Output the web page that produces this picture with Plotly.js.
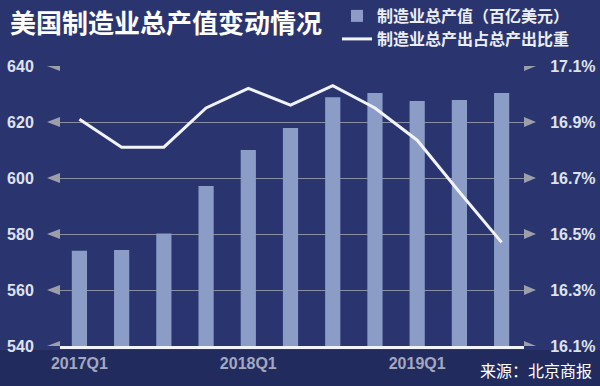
<!DOCTYPE html>
<html>
<head>
<meta charset="utf-8">
<script src="https://cdn.plot.ly/plotly-3.0.1.min.js"></script>
<style>html,body{margin:0;padding:0;background:#2a3570;}#chart{width:600px;height:386px;}</style>
</head>
<body>
<div id="chart"></div>
<script>
const quarters = ['2017Q1','2017Q2','2017Q3','2017Q4','2018Q1','2018Q2','2018Q3','2018Q4','2019Q1','2019Q2','2019Q3'];
const outputValue = [574.0, 574.3, 580.2, 597.1, 610.0, 617.9, 628.8, 630.4, 627.5, 627.9, 630.4];
const outputShare = [16.91, 16.81, 16.81, 16.95, 17.02, 16.96, 17.03, 16.95, 16.835, 16.65, 16.47];
const leftTicks = [540, 560, 580, 600, 620, 640];
const rightTicks = [16.1, 16.3, 16.5, 16.7, 16.9, 17.1];
const xTickLabels = ['2017Q1', '2018Q1', '2019Q1'];

const FONT = 'Liberation Sans, Arial, "Noto Sans CJK SC", sans-serif';
const CJK = '"Noto Sans CJK SC", "Liberation Sans", sans-serif';
const legendFont = {family: CJK, size: 16, color: '#eceef5', weight: 'bold'};

const traces = [
  {
    type: 'bar', x: quarters, y: outputValue, name: '制造业总产值（百亿美元）',
    width: 0.36, marker: {color: '#8b9cc6'}, yaxis: 'y', hoverinfo: 'skip', legend: 'legend'
  },
  {
    type: 'scatter', mode: 'lines', x: quarters, y: outputShare, name: '制造业总产出占总产出比重',
    line: {color: '#f2f3f8', width: 3}, yaxis: 'y2', hoverinfo: 'skip', legend: 'legend2'
  }
];

const shapes = [
  {type: 'rect', xref: 'paper', yref: 'paper', x0: -0.2, x1: 1.3, y0: -0.2, y1: -0.0143,
   fillcolor: '#222b5d', line: {width: 0}, layer: 'below'}
];
leftTicks.forEach(v => {
  shapes.push({type: 'path', xref: 'paper', yref: 'y', xsizemode: 'pixel', ysizemode: 'pixel',
    xanchor: 0, yanchor: v, path: 'M 0 -5 L -13 0 L 0 5 Z', fillcolor: '#9c9ea9', line: {width: 0}});
  shapes.push({type: 'path', xref: 'paper', yref: 'y', xsizemode: 'pixel', ysizemode: 'pixel',
    xanchor: 1, yanchor: v, path: 'M 0 -5 L 12 0 L 0 5 Z', fillcolor: '#9c9ea9', line: {width: 0}});
});

const layout = {
  width: 600, height: 386,
  margin: {l: 60, r: 76, t: 66, b: 40, autoexpand: false},
  paper_bgcolor: '#2a3570', plot_bgcolor: '#2a3570',
  showlegend: true,
  legend: {
    x: 0.597, y: 1.1786, xanchor: 'left', yanchor: 'middle',
    bgcolor: 'rgba(0,0,0,0)', itemwidth: 30, font: legendFont
  },
  legend2: {
    x: 0.597, y: 1.0964, xanchor: 'left', yanchor: 'middle',
    bgcolor: 'rgba(0,0,0,0)', itemwidth: 30, font: legendFont
  },
  xaxis: {
    type: 'category', range: [-0.46, 10.53],
    tickmode: 'array', tickvals: xTickLabels, ticktext: xTickLabels,
    showgrid: false, showline: true, linecolor: '#f2f3f8', linewidth: 2.5,
    ticks: 'outside', ticklen: 1, tickcolor: 'rgba(0,0,0,0)',
    tickfont: {family: FONT, size: 16, color: '#a3a8c0', weight: 'bold'},
    fixedrange: true
  },
  yaxis: {
    range: [540, 640], tickmode: 'array', tickvals: leftTicks,
    showgrid: true, gridcolor: '#8a8ea4', gridwidth: 1, zeroline: false,
    ticks: 'outside', ticklen: 22, tickcolor: 'rgba(0,0,0,0)',
    tickfont: {family: FONT, size: 16, color: '#dfe2ee', weight: 'bold'},
    fixedrange: true
  },
  yaxis2: {
    overlaying: 'y', side: 'right', range: [16.1, 17.1], tickmode: 'array',
    tickvals: rightTicks, ticktext: rightTicks.map(v => v.toFixed(1) + '%'),
    showgrid: false, zeroline: false,
    ticks: 'outside', ticklen: 22, tickcolor: 'rgba(0,0,0,0)',
    tickfont: {family: FONT, size: 16, color: '#dfe2ee', weight: 'bold'},
    fixedrange: true
  },
  shapes: shapes,
  annotations: [
    {text: '美国制造业总产值变动情况', xref: 'paper', yref: 'paper', x: -0.113, y: 1.1607,
     xanchor: 'left', yanchor: 'middle', showarrow: false,
     font: {family: CJK, size: 26, color: '#ffffff', weight: 'bold'}},
    {text: '来源：北京商报', xref: 'paper', yref: 'paper', x: 0.9009, y: -0.0857,
     xanchor: 'left', yanchor: 'middle', showarrow: false,
     font: {family: CJK, size: 16, color: '#ffffff'}}
  ]
};

Plotly.newPlot('chart', traces, layout, {displayModeBar: false, staticPlot: true});
</script>
</body>
</html>
